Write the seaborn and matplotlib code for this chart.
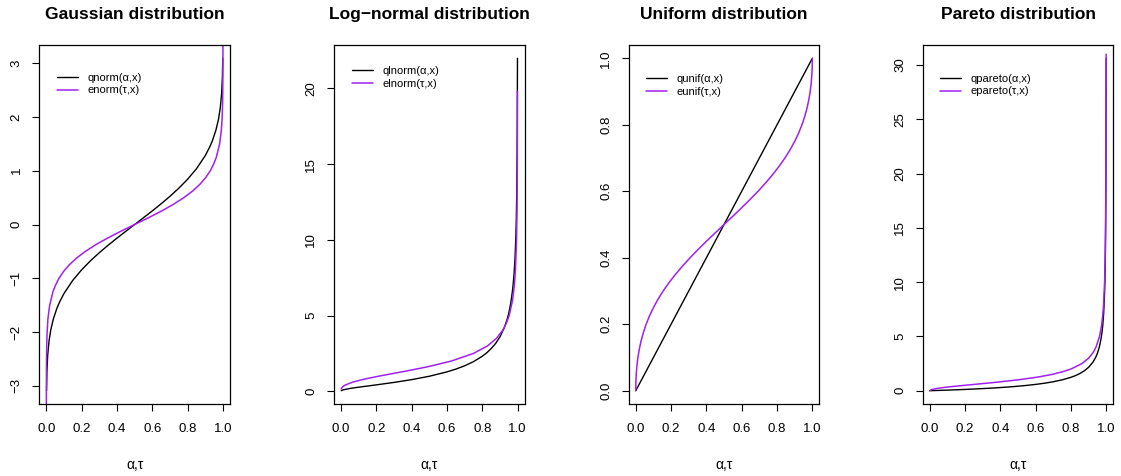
import numpy as np
import pandas as pd
import matplotlib
matplotlib.use("Agg")
import matplotlib.pyplot as plt
import seaborn as sns

# ---- Gaussian ----
gauss_alpha = [0.001, 0.003, 0.0075, 0.015, 0.025, 0.04, 0.06, 0.075, 0.1, 0.15, 0.2, 0.25, 0.3, 0.35, 0.4,
               0.45, 0.5, 0.55, 0.6, 0.65, 0.7, 0.75, 0.8, 0.85, 0.9, 0.925, 0.94, 0.96, 0.975, 0.985, 0.9925,
               0.997, 0.999]
gauss_q = [-3.09, -2.748, -2.432, -2.17, -1.96, -1.751, -1.555, -1.44, -1.282, -1.036, -0.842, -0.674, -0.524,
           -0.385, -0.253, -0.126, 0.0, 0.126, 0.253, 0.385, 0.524, 0.674, 0.842, 1.036, 1.282, 1.44, 1.555,
           1.751, 1.96, 2.17, 2.432, 2.748, 3.09]
gauss_tau = [0.00002, 0.000127, 0.0008, 0.00188, 0.0042, 0.009, 0.0188, 0.0374, 0.0524, 0.0714, 0.0969, 0.1296,
             0.1706, 0.221, 0.2802, 0.348, 0.4222, 0.5, 0.5778, 0.652, 0.7198, 0.779, 0.8294, 0.8704, 0.9031,
             0.9286, 0.9476, 0.9626, 0.9812, 0.991, 0.9958, 0.99812, 0.9992, 0.999873, 0.99998]
gauss_e = [-3.5, -3.0, -2.5, -2.25, -2.0, -1.75, -1.5, -1.25, -1.125, -1.0, -0.875, -0.75, -0.625, -0.5, -0.375,
           -0.25, -0.125, 0.0, 0.125, 0.25, 0.375, 0.5, 0.625, 0.75, 0.875, 1.0, 1.125, 1.25, 1.5, 1.75, 2.0,
           2.25, 2.5, 3.0, 3.5]

# ---- Log-normal ----
lnorm_alpha = [0.001, 0.01, 0.05, 0.1, 0.2, 0.3, 0.4, 0.5, 0.6, 0.65, 0.7, 0.75, 0.8, 0.825, 0.85, 0.875, 0.9,
               0.925, 0.94, 0.95, 0.96, 0.97, 0.975, 0.98, 0.985, 0.99, 0.9925, 0.995, 0.997, 0.998, 0.999]
lnorm_q = [0.0455, 0.0976, 0.193, 0.278, 0.431, 0.593, 0.776, 1.0, 1.289, 1.47, 1.689, 1.963, 2.32, 2.547, 2.82,
           3.158, 3.602, 4.22, 4.735, 5.18, 5.76, 6.57, 7.1, 7.79, 8.76, 10.24, 11.38, 13.1, 15.61, 17.78, 21.98]
lnorm_tau = [0.001, 0.00225, 0.00846, 0.0201, 0.0626, 0.1286, 0.2118, 0.3033, 0.3948, 0.5, 0.6236, 0.7488,
             0.8289, 0.8801, 0.9137, 0.9364, 0.952, 0.9711, 0.9814, 0.9876, 0.9938, 0.99658, 0.99839, 0.999]
lnorm_e = [0.16, 0.2, 0.3, 0.4, 0.6, 0.8, 1.0, 1.2, 1.4, 1.649, 2.0, 2.5, 3.0, 3.5, 4.0, 4.5, 5.0, 6.0, 7.0,
           8.0, 10.0, 12.0, 15.0, 19.8]

# ---- Uniform ----
unif_alpha = [0.0, 0.25, 0.5, 0.75, 1.0]
unif_q = [0.0, 0.25, 0.5, 0.75, 1.0]
unif_tau = [0.0, 0.000657, 0.00276, 0.00653, 0.0122, 0.02, 0.0302, 0.04306, 0.0588, 0.07774, 0.1, 0.1258,
            0.1552, 0.1882, 0.2248, 0.2647, 0.3077, 0.3533, 0.401, 0.4501, 0.5, 0.5499, 0.599, 0.6467, 0.6923,
            0.7353, 0.7752, 0.8118, 0.8448, 0.8742, 0.9, 0.92226, 0.9412, 0.95694, 0.9698, 0.98, 0.9878,
            0.99347, 0.99724, 0.999343, 1.0]
unif_e = [0.0, 0.025, 0.05, 0.075, 0.1, 0.125, 0.15, 0.175, 0.2, 0.225, 0.25, 0.275, 0.3, 0.325, 0.35, 0.375,
          0.4, 0.425, 0.45, 0.475, 0.5, 0.525, 0.55, 0.575, 0.6, 0.625, 0.65, 0.675, 0.7, 0.725, 0.75, 0.775,
          0.8, 0.825, 0.85, 0.875, 0.9, 0.925, 0.95, 0.975, 1.0]

# ---- Pareto ----
pareto_alpha = [0.0, 0.05, 0.1, 0.15, 0.2, 0.25, 0.3, 0.35, 0.4, 0.45, 0.5, 0.55, 0.6, 0.65, 0.7, 0.75, 0.8,
                0.825, 0.85, 0.875, 0.9, 0.925, 0.94, 0.95, 0.96, 0.97, 0.975, 0.98, 0.985, 0.99, 0.9925,
                0.995, 0.997, 0.998, 0.999]
pareto_q = [0.0, 0.026, 0.054, 0.085, 0.118, 0.155, 0.195, 0.240, 0.291, 0.348, 0.414, 0.491, 0.581, 0.690,
            0.826, 1.0, 1.236, 1.390, 1.582, 1.828, 2.162, 2.651, 3.082, 3.472, 4.0, 4.774, 5.325, 6.071,
            7.165, 9.0, 10.547, 13.14, 17.257, 21.36, 30.62]
pareto_tau = [0.0, 0.0099, 0.0385, 0.0825, 0.138, 0.2, 0.36, 0.5, 0.61, 0.6923, 0.7539, 0.8, 0.8621, 0.9,
              0.9245, 0.9412, 0.9615, 0.973, 0.98, 0.9846, 0.9901, 0.9931, 0.99558, 0.9975, 0.9984, 0.99889,
              0.99896]
pareto_e = [0.0, 0.1, 0.2, 0.3, 0.4, 0.5, 0.75, 1.0, 1.25, 1.5, 1.75, 2.0, 2.5, 3.0, 3.5, 4.0, 5.0, 6.0, 7.0,
            8.0, 10.0, 12.0, 15.0, 20.0, 25.0, 30.0, 31.0]

panels = [
    ("Gaussian distribution", gauss_alpha, gauss_q, gauss_tau, gauss_e,
     "qnorm(\u03b1,x)", "enorm(\u03c4,x)", [-3, -2, -1, 0, 1, 2, 3], 31.7),
    ("Log\u2212normal distribution", lnorm_alpha, lnorm_q, lnorm_tau, lnorm_e,
     "qlnorm(\u03b1,x)", "elnorm(\u03c4,x)", [0, 5, 10, 15, 20], 25.3),
    ("Uniform distribution", unif_alpha, unif_q, unif_tau, unif_e,
     "qunif(\u03b1,x)", "eunif(\u03c4,x)", [0.0, 0.2, 0.4, 0.6, 0.8, 1.0], 33.3),
    ("Pareto distribution", pareto_alpha, pareto_q, pareto_tau, pareto_e,
     "qpareto(\u03b1,x)", "epareto(\u03c4,x)", [0, 5, 10, 15, 20, 25, 30], 32.7),
]

x_ticks = [0.0, 0.2, 0.4, 0.6, 0.8, 1.0]
PURPLE = "#A020F0"


def fmt(v, decimals):
    s = f"{v:.{decimals}f}"
    return s.replace("-", "\u2212")


sns.set_style("white")
plt.rcParams["font.family"] = ["Liberation Sans", "DejaVu Sans"]
plt.rcParams["text.color"] = "black"
plt.rcParams["axes.labelcolor"] = "black"

W, H = 1121, 476
fig = plt.figure(figsize=(W / 100, H / 100), dpi=100)
lefts = [39.3, 334.0, 628.7, 922.7]
ax_w, top_px, bot_px = 190.7, 45.0, 404.0

for (title, a, q, t, e, lab_q, lab_e, yt, leg_off), lp in zip(panels, lefts):
    ax = fig.add_axes([lp / W, (H - bot_px) / H, ax_w / W, (bot_px - top_px) / H])
    sns.lineplot(x=a, y=q, ax=ax, color="black", linewidth=1.0, label=lab_q)
    sns.lineplot(x=t, y=e, ax=ax, color=PURPLE, linewidth=1.1, label=lab_e)

    qmin, qmax = min(q), max(q)
    pad = 0.04 * (qmax - qmin)
    ax.set_ylim(qmin - pad, qmax + pad)
    ax.set_xlim(-0.04, 1.04)

    ydec = 1 if any(abs(v - round(v)) > 1e-9 for v in yt) else 0
    ax.set_xticks(x_ticks)
    ax.set_xticklabels([fmt(v, 1) for v in x_ticks])
    ax.set_yticks(yt)
    ax.set_yticklabels([fmt(v, ydec) for v in yt], rotation=90, va="center")
    ax.tick_params(axis="both", direction="out", length=5, width=0.8, labelsize=9.5, color="black",
                   labelcolor="black", bottom=True, left=True)
    ax.tick_params(axis="x", pad=9)
    ax.tick_params(axis="y", pad=7)
    for s in ax.spines.values():
        s.set_visible(True)
        s.set_color("black")
        s.set_linewidth(0.9)

    ax.set_title(title, fontsize=12.5, fontweight="bold", pad=19, color="black")
    ax.set_xlabel("\u03b1,\u03c4", fontsize=10, labelpad=16)
    ax.set_ylabel("")

    ax.legend(loc="upper left", bbox_to_anchor=(17.5 / ax_w, 1 - (leg_off - 4.0) / (bot_px - top_px)),
              frameon=False, fontsize=8, handlelength=1.9, handletextpad=0.85,
              labelspacing=0.25, borderpad=0, borderaxespad=0)

fig.savefig("out.png", dpi=100)
